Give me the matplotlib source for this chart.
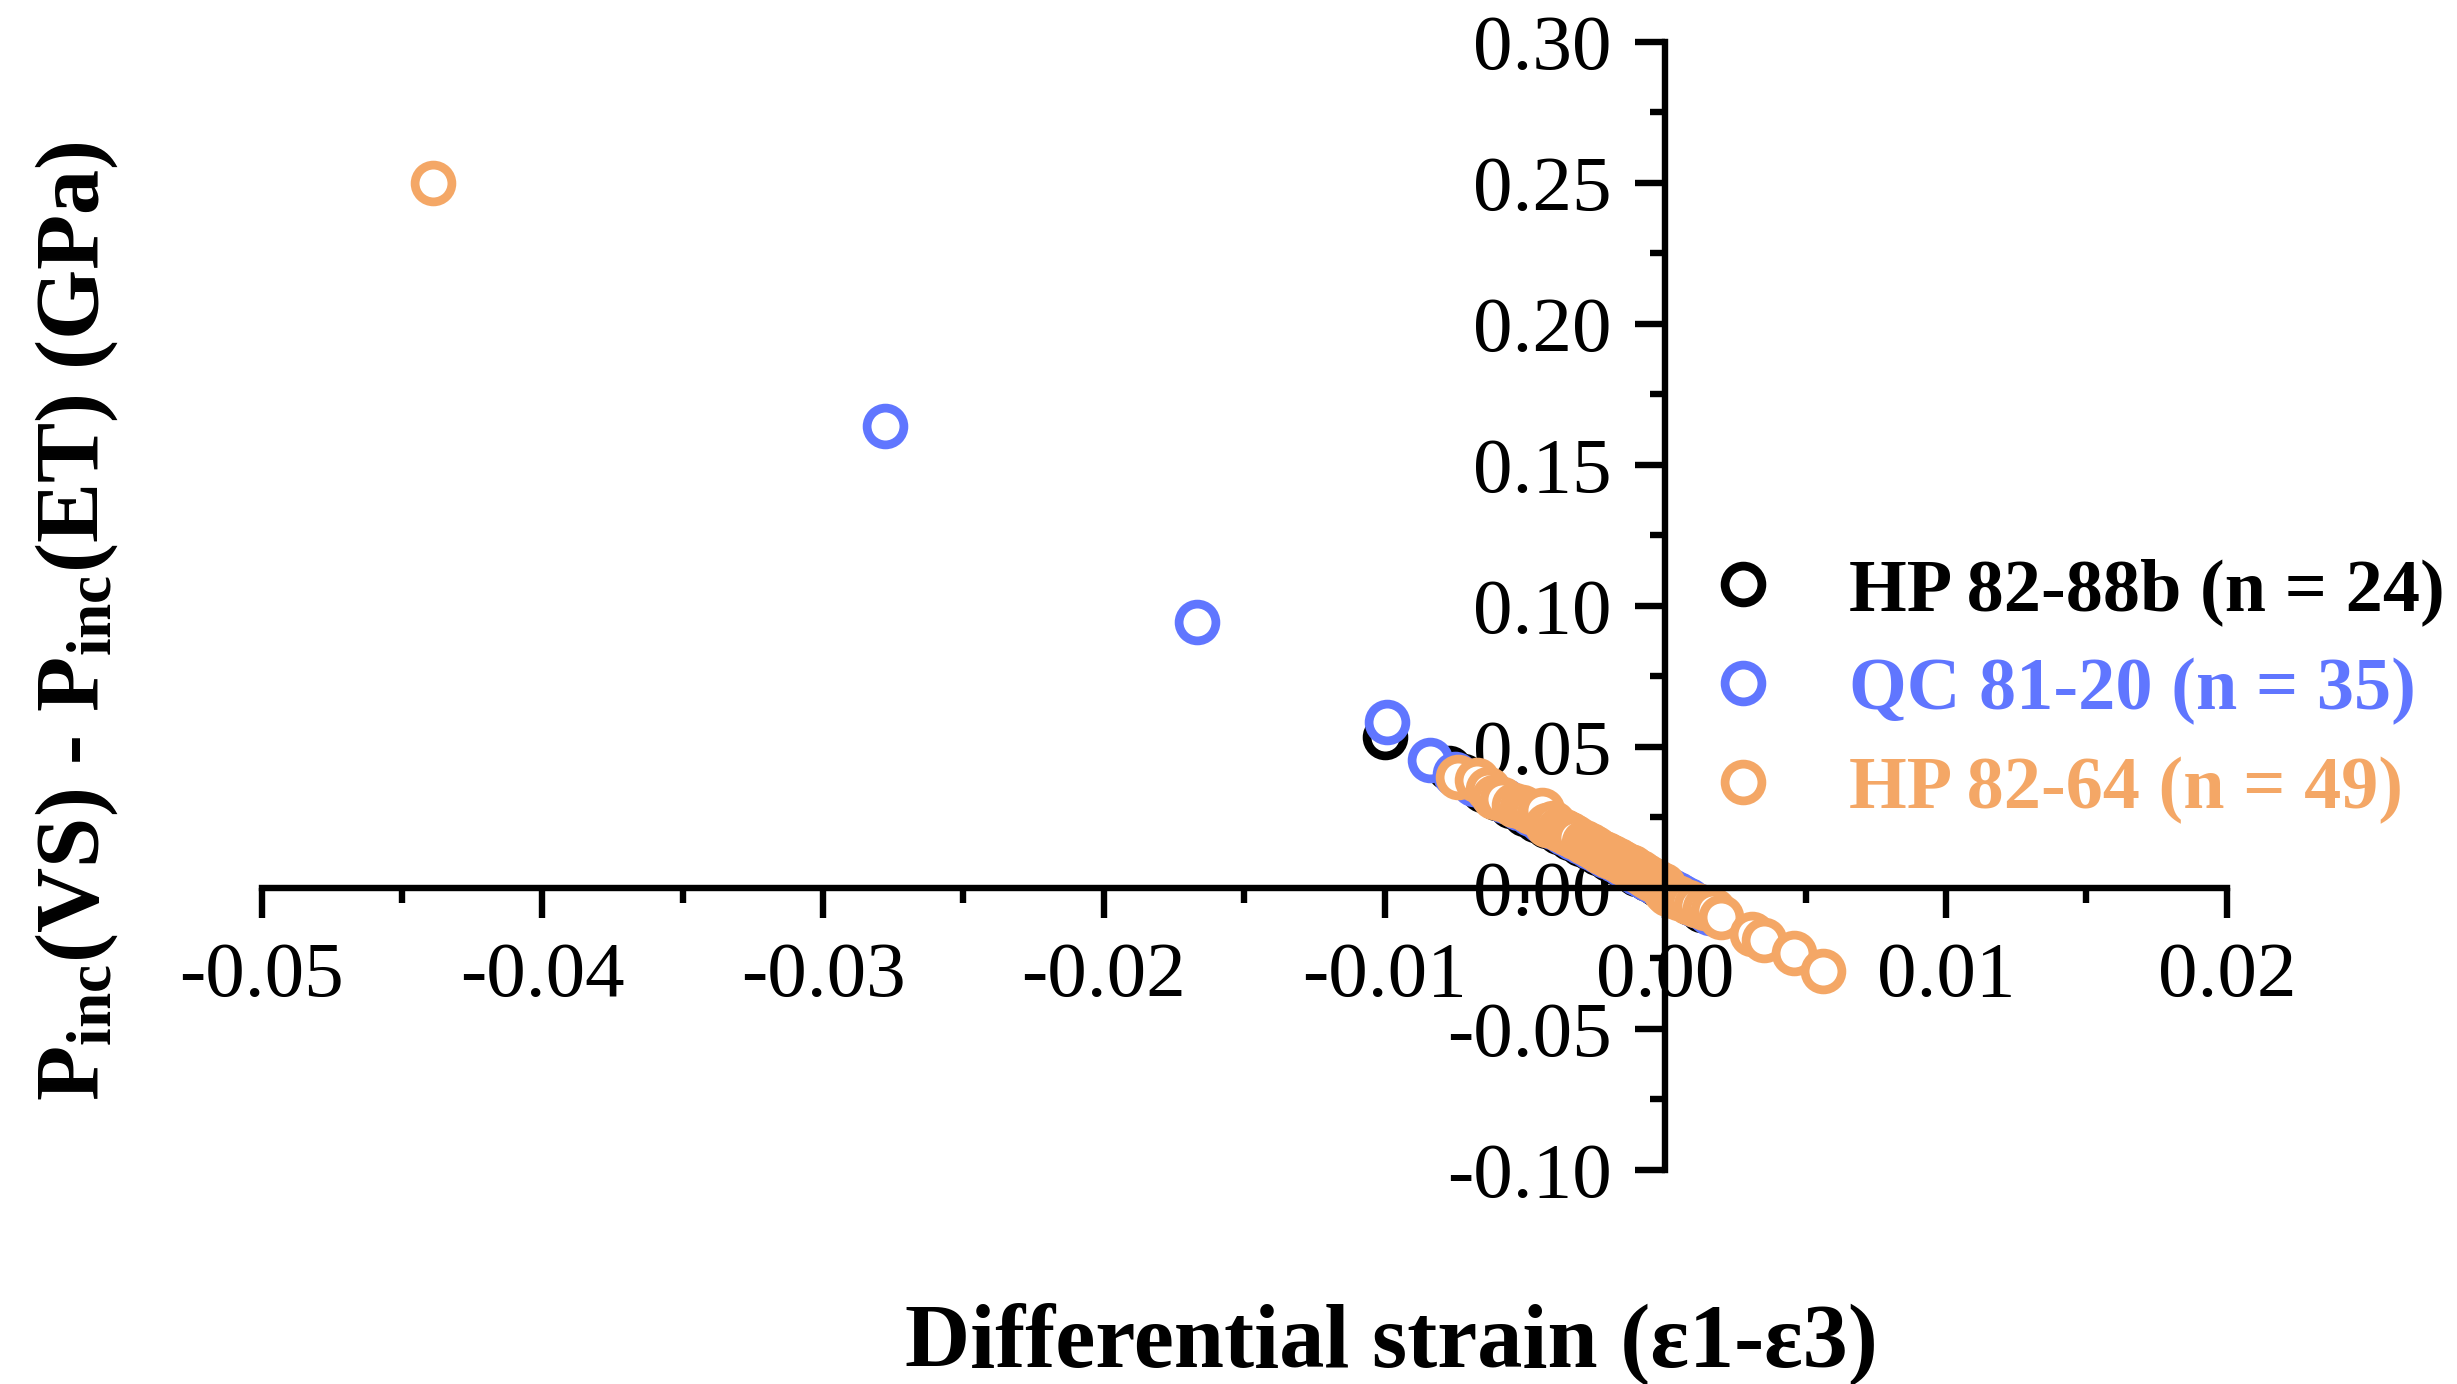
import matplotlib
matplotlib.use("Agg")
import matplotlib.pyplot as plt
from matplotlib.ticker import FixedLocator, FormatStrFormatter
from matplotlib.lines import Line2D

# ---------------- data ----------------
series_names = ["HP 82-88b (n = 24)", "QC 81-20 (n = 35)", "HP 82-64 (n = 49)"]
series_colors = ["#000000", "#6076FF", "#F4A766"]

hp8288b_x = [-0.0100, -0.0077, -0.0072, -0.0065, -0.0060, -0.0055, -0.0050, -0.0046,
             -0.0042, -0.0038, -0.0034, -0.0030, -0.0027, -0.0024, -0.0020, -0.0017,
             -0.0013, -0.0010, -0.0006, -0.0003, 0.0000, 0.0004, 0.0009, 0.0013]
hp8288b_y = [0.0535, 0.0424, 0.0395, 0.0345, 0.0318, 0.0290, 0.0262, 0.0240,
             0.0218, 0.0196, 0.0175, 0.0155, 0.0140, 0.0123, 0.0102, 0.0087,
             0.0066, 0.0050, 0.0030, 0.0012, -0.0005, -0.0025, -0.0055, -0.0080]

qc8120_x = [-0.0278, -0.0167, -0.0099, -0.0084, -0.0075, -0.0068, -0.0062, -0.0057,
            -0.0052, -0.0048, -0.0044, -0.0040, -0.0036, -0.0033, -0.0030, -0.0027,
            -0.0024, -0.0021, -0.0018, -0.0015, -0.0012, -0.0010, -0.0008, -0.0006,
            -0.0004, -0.0002, 0.0000, 0.0002, 0.0004, 0.0006, 0.0008, 0.0010,
            0.0012, 0.0014, 0.0016]
qc8120_y = [0.1637, 0.0942, 0.0589, 0.0453, 0.0405, 0.0368, 0.0336, 0.0308,
            0.0281, 0.0260, 0.0238, 0.0216, 0.0195, 0.0178, 0.0162, 0.0146,
            0.0130, 0.0113, 0.0097, 0.0081, 0.0065, 0.0054, 0.0043, 0.0032,
            0.0021, 0.0010, -0.0001, -0.0012, -0.0023, -0.0034, -0.0045, -0.0056,
            -0.0066, -0.0077, -0.0088]

hp8264_x = [-0.0439, -0.0074, -0.0067, -0.0063, -0.0061, -0.0058, -0.0054, -0.0051,
            -0.0049, -0.0048, -0.0045, -0.0044, -0.0042, -0.0040, -0.0038, -0.0036,
            -0.0035, -0.0034, -0.0032, -0.0029, -0.0027, -0.0025, -0.0023, -0.0021,
            -0.0020, -0.0019, -0.0017, -0.0015, -0.0013, -0.0012, -0.0011, -0.0009,
            -0.0007, -0.0005, -0.0003, -0.0001, 0.0000, 0.0001, 0.0003, 0.0005,
            0.0008, 0.0011, 0.0014, 0.0017, 0.0020, 0.0031, 0.0035, 0.0046, 0.0056]
hp8264_y = [0.2500, 0.0394, 0.0382, 0.0350, 0.0323, 0.0315, 0.0293, 0.0285,
            0.0275, 0.0268, 0.0262, 0.0276, 0.0222, 0.0228, 0.0210, 0.0200,
            0.0195, 0.0190, 0.0180, 0.0163, 0.0152, 0.0140, 0.0127, 0.0118,
            0.0112, 0.0109, 0.0098, 0.0088, 0.0077, 0.0072, 0.0066, 0.0055,
            0.0043, 0.0032, 0.0020, 0.0008, -0.0010, -0.0022, -0.0028, -0.0038,
            -0.0050, -0.0062, -0.0072, -0.0079, -0.0104, -0.0164, -0.0185, -0.0232, -0.0295]

x_ticks = [-0.05, -0.04, -0.03, -0.02, -0.01, 0.00, 0.01, 0.02]
y_ticks = [-0.10, -0.05, 0.00, 0.05, 0.10, 0.15, 0.20, 0.25, 0.30]
x_label = "Differential strain (\u03b51-\u03b53)"
y_label = r"P$_{\mathbf{inc}}$(VS) - P$_{\mathbf{inc}}$(ET) (GPa)"

# ---------------- style ----------------
plt.rcParams["font.family"] = ["Liberation Serif", "DejaVu Serif"]
plt.rcParams["mathtext.fontset"] = "custom"
plt.rcParams["mathtext.rm"] = "Liberation Serif"
plt.rcParams["mathtext.bf"] = "Liberation Serif:bold"
plt.rcParams["mathtext.it"] = "Liberation Serif:italic"
plt.rcParams["axes.unicode_minus"] = False

fig = plt.figure(figsize=(24.57, 13.84), dpi=100)
ax = fig.add_axes([0.1065, 0.1548, 0.7998, 0.8151])

ms = 26.5
mew = 6.3
for xs, ys, c in zip([hp8288b_x, qc8120_x, hp8264_x],
                     [hp8288b_y, qc8120_y, hp8264_y], series_colors):
    ax.plot(xs, ys, linestyle="none", marker="o", markersize=ms,
            markerfacecolor="white", markeredgecolor=c, markeredgewidth=mew,
            clip_on=False)

ax.set_xlim(-0.05, 0.02)
ax.set_ylim(-0.10, 0.30)

for s in ["top", "right"]:
    ax.spines[s].set_visible(False)
ax.spines["left"].set_position(("data", 0))
ax.spines["bottom"].set_position(("data", 0))
for s in ["left", "bottom"]:
    ax.spines[s].set_linewidth(4.6)

ax.xaxis.set_major_locator(FixedLocator(x_ticks))
ax.yaxis.set_major_locator(FixedLocator(y_ticks))
ax.xaxis.set_minor_locator(FixedLocator([t + 0.005 for t in x_ticks[:-1]]))
ax.yaxis.set_minor_locator(FixedLocator([t + 0.025 for t in y_ticks[:-1]]))
ax.xaxis.set_major_formatter(FormatStrFormatter("%.2f"))
ax.yaxis.set_major_formatter(FormatStrFormatter("%.2f"))

ax.tick_params(which="major", direction="out", length=21.6, width=4.6,
               labelsize=57)
ax.tick_params(which="minor", direction="out", length=10.8, width=4.6)
ax.tick_params(axis="x", which="major", pad=17)
ax.tick_params(axis="y", which="major", pad=17)

ax.set_xlabel(x_label, fontsize=65, fontweight="bold")
ax.xaxis.set_label_coords(0.575, -0.118)
ax.set_ylabel(y_label, fontsize=65, fontweight="bold")
ax.yaxis.set_label_coords(-0.072, 0.486)

handles = [Line2D([], [], linestyle="none", marker="o", markersize=ms,
                  markerfacecolor="white", markeredgecolor=c, markeredgewidth=mew)
           for c in series_colors]
leg = ax.legend(handles, series_names, loc="upper left",
                bbox_to_anchor=(1706 / 2457, 1 - 558 / 1384),
                bbox_transform=fig.transFigure, frameon=False,
                prop={"family": "Liberation Serif", "weight": "bold", "size": 53.5},
                handlelength=1.0, handletextpad=0.93, labelspacing=0.42,
                borderpad=0, borderaxespad=0, numpoints=1)
for t, c in zip(leg.get_texts(), series_colors):
    t.set_color(c)

fig.savefig("out.png", dpi=100)
